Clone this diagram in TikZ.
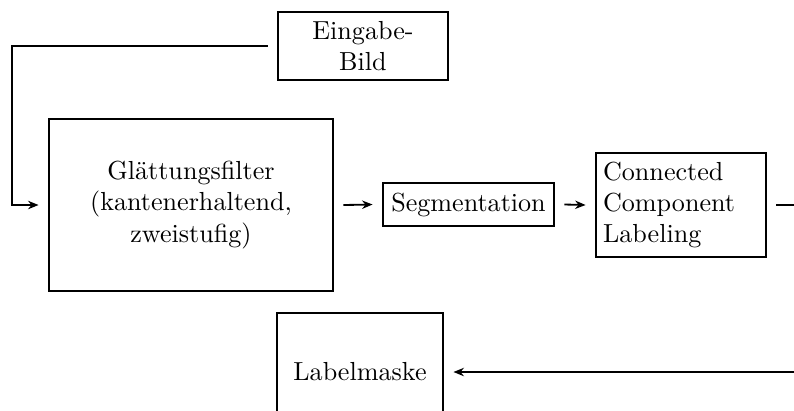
\documentclass[tikz,border=0pt]{standalone}
\usetikzlibrary{arrows.meta,calc}

\tikzset{
  block/.style={draw, line width=0.7pt, inner sep=0pt, outer sep=4pt, align=center},
  flow/.style={line width=0.7pt, -{Stealth[length=4pt,width=3.2pt]}},
  plain/.style={line width=0.7pt}
}

\begin{document}
\begin{tikzpicture}[x=0.3831pt, y=-0.3831pt]
  \useasboundingbox (0,0) rectangle (794,410);

  % processing blocks
  \node[block, minimum width=65.1pt, minimum height=26.1pt] (eb) at (363,46)
    {Eingabe-\\Bild};
  \node[block, minimum width=108.8pt, minimum height=65.9pt] (gf) at (191,205)
    {Glättungsfilter\\(kantenerhaltend,\\zweistufig)};
  \node[block, minimum width=65.5pt, minimum height=16.5pt] (seg) at (468.5,204.5)
    {Segmentation};
  \node[block, minimum width=65.1pt, minimum height=39.8pt, align=left,
        text width=59.7pt] (ccl) at (681,205)
    {Connected\\Component\\Labeling};
  \node[block, minimum width=63.6pt, minimum height=45.2pt] (lm) at (360,372)
    {Labelmaske};

  % connectors
  \coordinate (corner) at (12,46);
  \coordinate (outright) at (830,205);
  \draw[flow] (eb.west) -- (eb.west -| corner) |- (gf.west);
  \draw[flow] (gf.east) -- (seg.west);
  \draw[flow] (seg.east) -- (ccl.west);
  \draw[flow] (ccl.east) -- (outright) |- (lm.east);
\end{tikzpicture}
\end{document}
